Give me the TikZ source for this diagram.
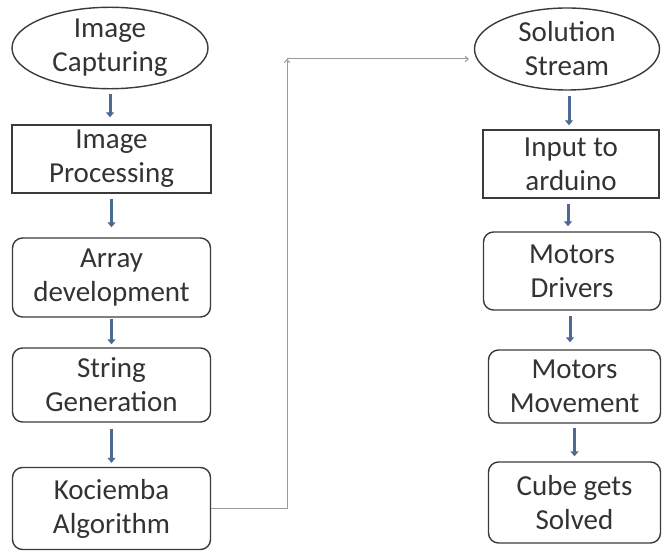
\documentclass[tikz,border=0pt]{standalone}
\usepackage{fontspec}
\setmainfont{Carlito}
\usetikzlibrary{shapes.geometric,arrows.meta,calc}
\definecolor{txt}{HTML}{333333}
\definecolor{edge}{HTML}{3A3A3A}
\definecolor{flow}{HTML}{4D6A94}
\definecolor{link}{HTML}{9A9A9A}
\tikzset{
  lbl/.style={align=center,text=txt,font=\fontsize{29}{34}\selectfont,inner sep=0pt},
  oval/.style={lbl,ellipse,draw=edge,line width=1.4pt},
  sqbox/.style={lbl,rectangle,draw=edge,line width=1.4pt},
  rbox/.style={lbl,rectangle,rounded corners=10pt,draw=edge,line width=1.4pt},
  flowarr/.style={draw=flow,line width=3pt,-{Triangle[width=8pt,length=5pt]}},
  linkarr/.style={draw=link,line width=1pt,-{To[length=4pt,width=6pt]}}
}
\begin{document}
\begin{tikzpicture}[x=1pt,y=-1pt]
\useasboundingbox (0,0) rectangle (662,553);
% left column
\node[oval,minimum width=196pt,minimum height=80pt] (cap) at (110,48) {Image\\Capturing};
\node[sqbox,minimum width=199pt,minimum height=68pt] (proc) at (111.5,159) {Image\\Processing};
\node[rbox,minimum width=198pt,minimum height=79pt] (arr) at (111.5,277.5) {Array\\development};
\node[rbox,minimum width=198pt,minimum height=74pt] (str) at (111.5,385) {String\\Generation};
\node[rbox,minimum width=198pt,minimum height=82pt] (koc) at (111.5,508.5) {Kociemba\\Algorithm};
% right column
\node[oval,minimum width=185pt,minimum height=82pt] (sol) at (567,49) {Solution\\Stream};
\node[sqbox,minimum width=176pt,minimum height=68pt] (inp) at (571,164) {Input to\\arduino};
\node[rbox,minimum width=177pt,minimum height=78pt] (drv) at (572,271) {Motors\\Drivers};
\node[rbox,minimum width=172pt,minimum height=73pt] (mov) at (574.5,386.5) {Motors\\Movement};
\node[rbox,minimum width=172pt,minimum height=81pt] (cube) at (574.5,502.5) {Cube gets\\Solved};
% flow arrows left
\draw[flowarr,shorten <=5pt,shorten >=7pt] (cap.south) -- (cap.south |- proc.north);
\draw[flowarr,shorten <=5pt,shorten >=10pt] (proc.south) -- (proc.south |- arr.north);
\draw[flowarr,shorten <=1pt,shorten >=3pt] (arr.south) -- (arr.south |- str.north);
\draw[flowarr,shorten <=6pt,shorten >=4pt] (str.south) -- (str.south |- koc.north);
% flow arrows right
\draw[flowarr,shorten <=5pt,shorten >=4pt] ([xshift=2pt]sol.south) -- ([xshift=2pt]sol.south |- inp.north);
\draw[flowarr,shorten <=5pt,shorten >=5pt] ([xshift=-3pt]inp.south) -- ([xshift=-3pt]inp.south |- drv.north);
\draw[flowarr,shorten <=5pt,shorten >=7pt] ([xshift=-2pt]drv.south) -- ([xshift=-2pt]drv.south |- mov.north);
\draw[flowarr,shorten <=4pt,shorten >=5pt] (mov.south) -- (mov.south |- cube.north);
% link from Kociemba to Solution Stream
\coordinate (corner) at (287,59);
\draw[linkarr] (koc.east) -| (corner);
\draw[linkarr,shorten >=5pt] (corner) -- (corner -| sol.west);
\end{tikzpicture}
\end{document}
